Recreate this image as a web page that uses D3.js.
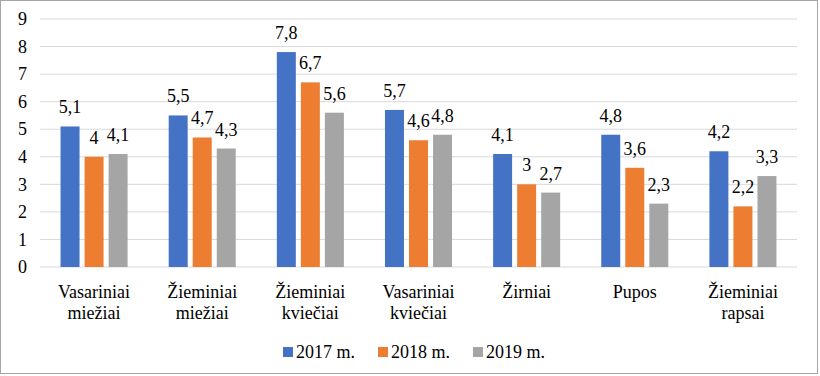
<!DOCTYPE html>
<html>
<head>
<meta charset="utf-8">
<script src="https://cdn.jsdelivr.net/npm/d3@7"></script>
<style>
  text, tspan { font-family: 'Liberation Serif', Tinos !important; }
</style>
</head>
<body style="margin:0;background:#fff">
<div id="chart"></div>
<script>
/* Grouped yield bars, 2017-2019. */

var categories = [["Vasariniai", "miežiai"], ["Žieminiai", "miežiai"], ["Žieminiai", "kviečiai"],
  ["Vasariniai", "kviečiai"], ["Žirniai"], ["Pupos"], ["Žieminiai", "rapsai"]];
var seriesNames = ["2017 m.", "2018 m.", "2019 m."];
var values2017 = [5.1, 5.5, 7.8, 5.7, 4.1, 4.8, 4.2];
var values2018 = [4.0, 4.7, 6.7, 4.6, 3.0, 3.6, 2.2];
var values2019 = [4.1, 4.3, 5.6, 4.8, 2.7, 2.3, 3.3];
var yTicks = [0, 1, 2, 3, 4, 5, 6, 7, 8, 9];

var seriesColors = ["#4472C4", "#ED7D31", "#A5A5A5"];
var allSeries = [values2017, values2018, values2019];
var FONT = "Liberation Serif";

var width = 820, height = 376;
var margin = { top: 19, right: 23, bottom: 109, left: 40 };
var innerW = width - margin.left - margin.right;
var innerH = height - margin.top - margin.bottom;

var svg = d3.select("#chart").append("svg")
  .attr("width", width).attr("height", height)
  .attr("font-family", FONT).attr("font-size", 18);

svg.append("rect").attr("x", 0.5).attr("y", 0.5)
  .attr("width", width - 3).attr("height", height - 3)
  .attr("fill", "#fff").attr("stroke", "#a6a6a6");

var g = svg.append("g").attr("transform", "translate(" + margin.left + "," + margin.top + ")");

var idx = categories.map(function (d, i) { return i; });
var x0 = d3.scaleBand().domain(idx).range([0, innerW]).paddingInner(0.38).paddingOuter(0.19);
var x1 = d3.scaleBand().domain([0, 1, 2]).range([0, x0.bandwidth()]).paddingInner(0.21).paddingOuter(0);
var y = d3.scaleLinear().domain([0, 9]).range([innerH, 0]);

/* gridlines */
g.append("g").selectAll("line").data(yTicks).enter().append("line")
  .attr("x1", 0).attr("x2", innerW)
  .attr("y1", function (d) { return y(d); }).attr("y2", function (d) { return y(d); })
  .attr("stroke", "#d9d9d9").attr("stroke-width", 1);

/* y axis labels */
var yAxis = g.append("g").call(d3.axisLeft(y).tickValues(yTicks).tickSize(0).tickPadding(13))
  .attr("font-family", FONT).attr("font-size", 18);
yAxis.select(".domain").remove();
yAxis.selectAll("text").attr("fill", "#000");

/* bars + labels */
idx.forEach(function (ci) {
  var group = g.append("g").attr("transform", "translate(" + x0(ci) + ",0)");
  allSeries.forEach(function (vals, si) {
    var v = vals[ci];
    group.append("rect")
      .attr("x", x1(si)).attr("y", y(v))
      .attr("width", x1.bandwidth()).attr("height", innerH - y(v))
      .attr("fill", seriesColors[si]);
    group.append("text")
      .attr("x", x1(si) + x1.bandwidth() / 2).attr("y", y(v) - 13)
      .attr("text-anchor", "middle").attr("fill", "#000")
      .text(String(v).replace(".", ","));
  });
});

/* category labels */
idx.forEach(function (ci) {
  var cx = x0(ci) + x0.bandwidth() / 2;
  var t = g.append("text")
    .attr("x", cx).attr("y", innerH + 31)
    .attr("text-anchor", "middle").attr("fill", "#000");
  categories[ci].forEach(function (line, li) {
    t.append("tspan").attr("x", cx).attr("dy", li === 0 ? 0 : 21).text(line);
  });
});

/* Legend */
var legendX = [283, 378, 473];
var lg = svg.append("g").attr("transform", "translate(0,352)");
seriesNames.forEach(function (name, si) {
  lg.append("rect").attr("x", legendX[si]).attr("y", -5).attr("width", 10).attr("height", 10).attr("fill", seriesColors[si]);
  lg.append("text").attr("x", legendX[si] + 13).attr("y", 6).attr("fill", "#000").text(name);
});
</script>
</body>
</html>
